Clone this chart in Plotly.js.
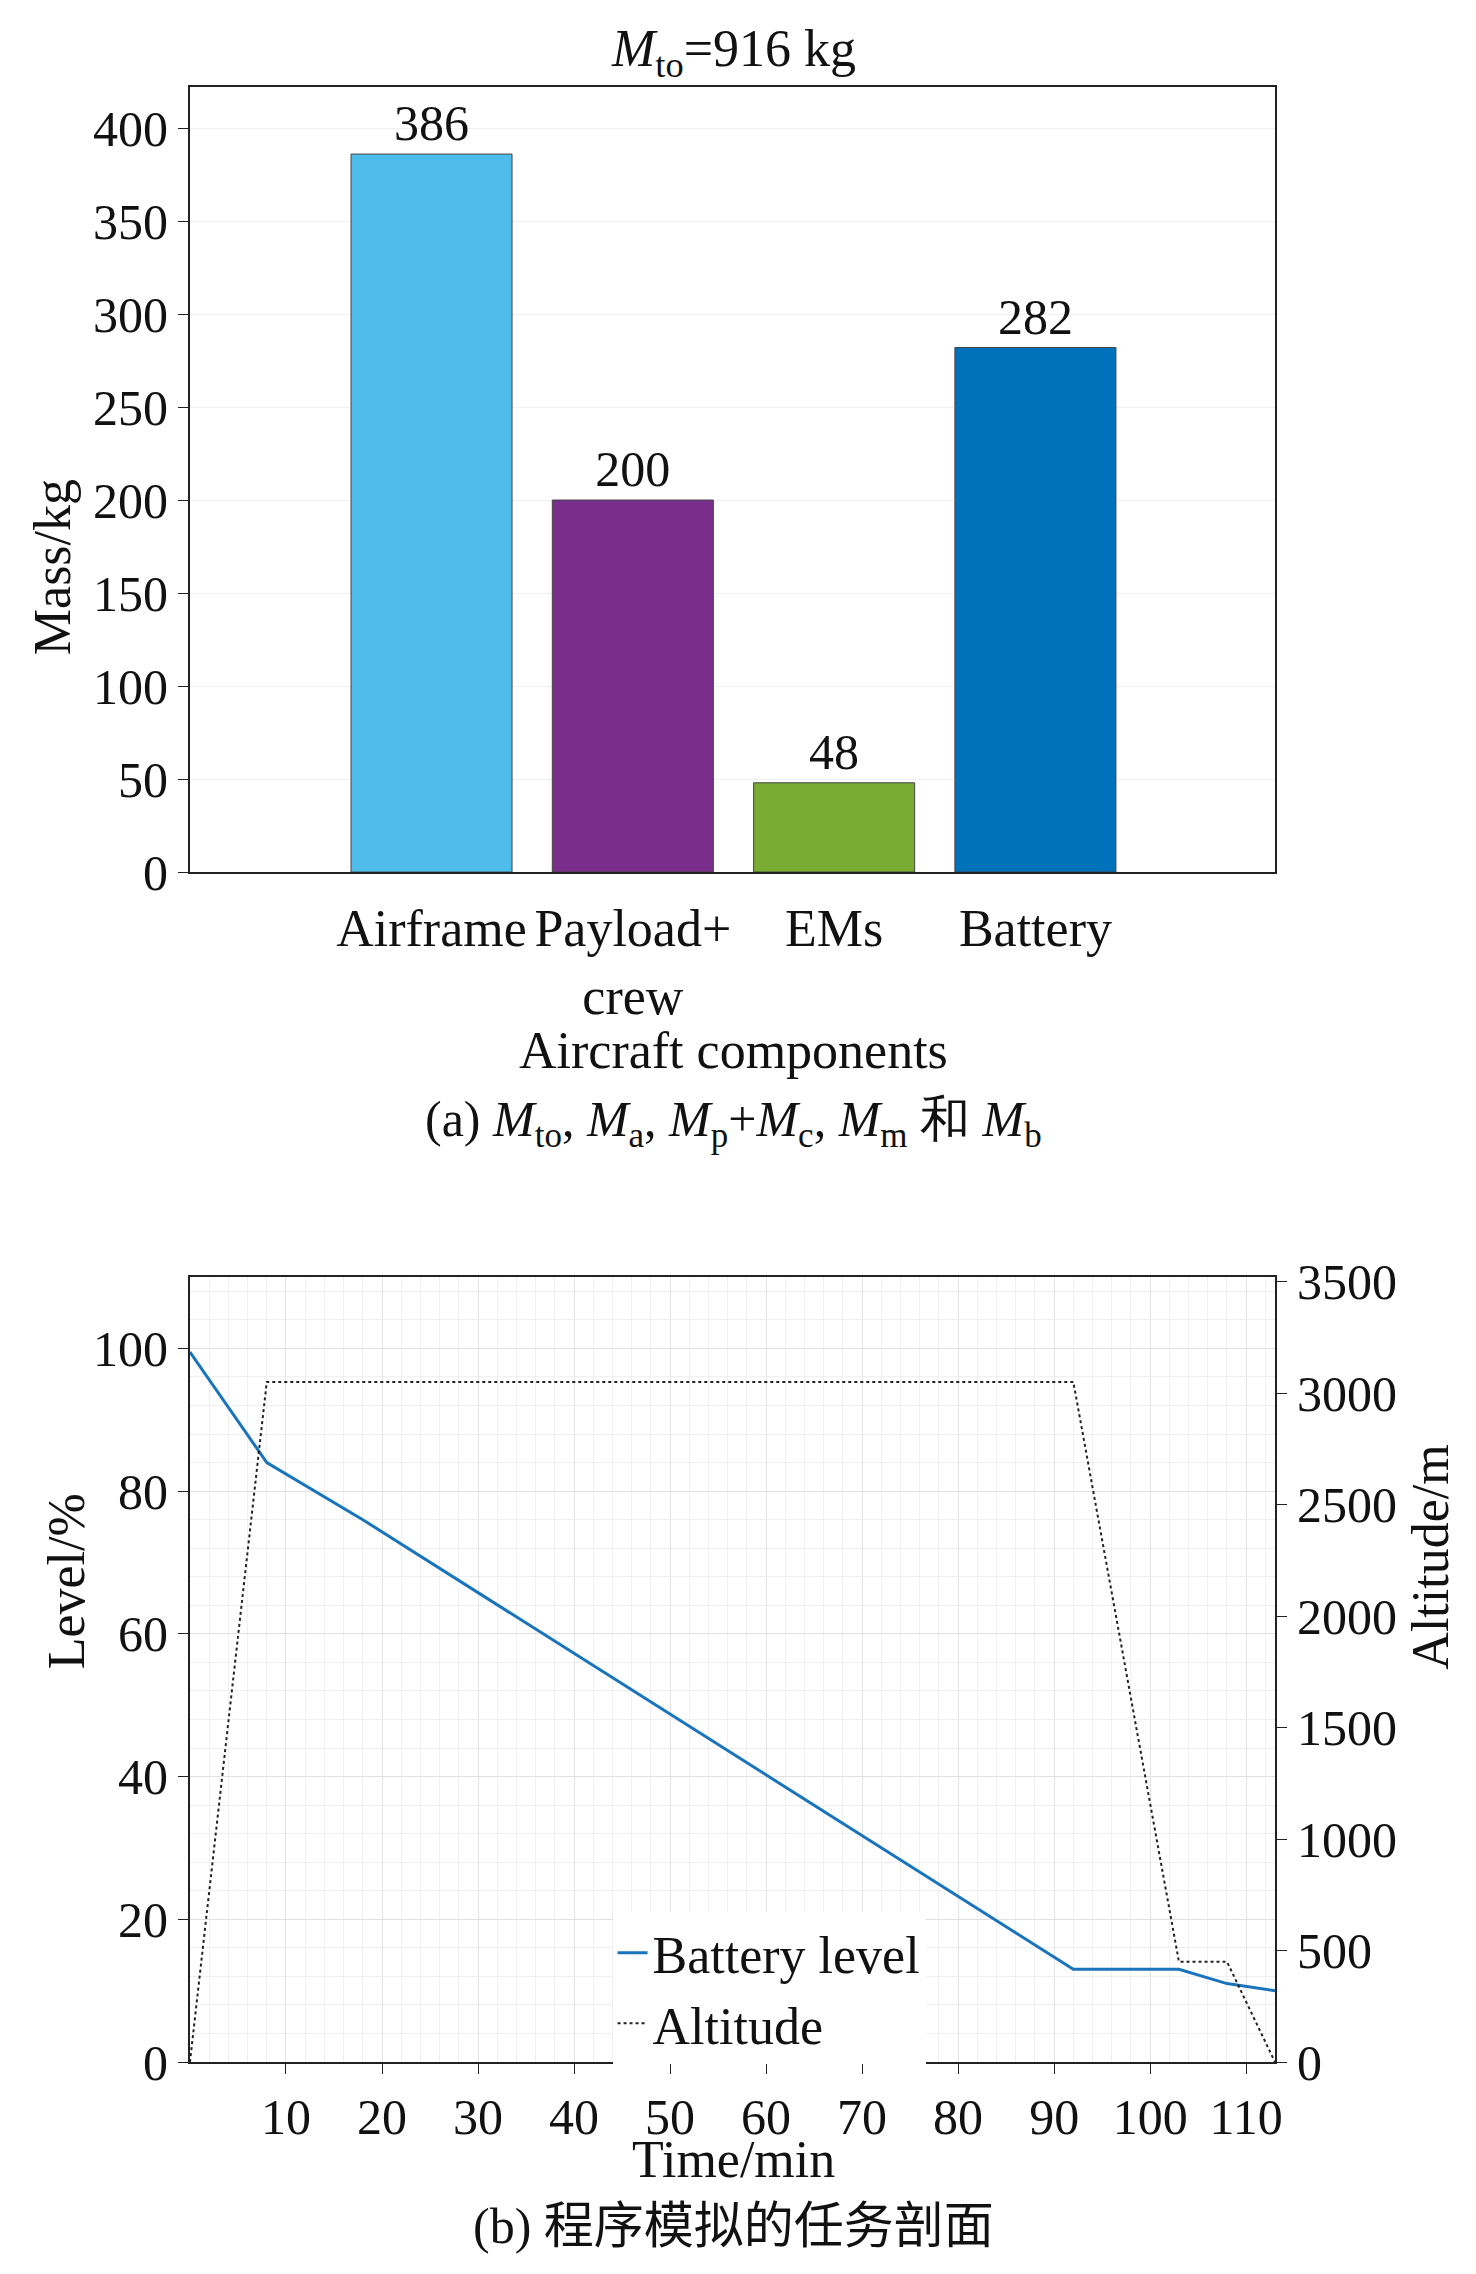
<!DOCTYPE html>
<html><head><meta charset="utf-8">
<script src="https://cdn.plot.ly/plotly-3.0.1.min.js"></script>
<style>body{margin:0;background:#fff}</style>
</head><body>
<div id="chart" style="width:1476px;height:2274px"></div>
<script>
const components = ["Airframe", "Payload+<br>crew", "EMs", "Battery"];
const masses = [386, 200, 48, 282];
const barColors = ["#4FBDEB", "#7B2D8B", "#78AC33", "#0071BB"];

const levelTime = [0, 8, 18, 92, 103, 108, 113];
const batteryLevel = [99.5, 84, 76, 13, 13, 11, 10];
const altTime = [0, 8, 92, 103, 108, 113];
const altitude = [0, 3050, 3050, 450, 450, 0];
const timeTicks = [10, 20, 30, 40, 50, 60, 70, 80, 90, 100, 110];

const serif = "Liberation Serif";
const f = (size) => ({ family: serif, size: size, color: "#111" });
const axisBase = () => ({
    showline: true, mirror: true, linecolor: "#222", linewidth: 2,
    ticks: "outside", ticklen: 10, tickcolor: "#222", tickfont: f(50),
    zeroline: false, gridcolor: "#e6e6e6",
});

const traces = [
    {
        type: "bar", x: components, y: masses, xaxis: "x", yaxis: "y",
        marker: { color: barColors, line: { color: "#444", width: 1 } },
        width: 0.8, text: masses.map(String), textposition: "outside",
        textfont: f(50), cliponaxis: false, showlegend: false,
    },
    {
        type: "scatter", mode: "lines", name: "Battery level",
        x: levelTime, y: batteryLevel, xaxis: "x2", yaxis: "y2",
        line: { color: "#1a74bb", width: 3 },
    },
    {
        type: "scatter", mode: "lines", name: "Altitude",
        x: altTime, y: altitude, xaxis: "x2", yaxis: "y3",
        line: { color: "#222", width: 2, dash: "dot" },
    },
];

const layout = {
    width: 1476, height: 2274, margin: { l: 0, r: 0, t: 0, b: 0 },
    paper_bgcolor: "#fff", plot_bgcolor: "#fff",
    font: f(50),
    xaxis: Object.assign(axisBase(), {
        domain: [0.1287, 0.8638], range: [-1.2, 4.19], showgrid: false,
        ticks: "outside", ticklen: 0, ticklabelstandoff: 10, tickfont: f(52),
    }),
    yaxis: Object.assign(axisBase(), {
        domain: [0.6165, 0.9617], range: [0, 422], dtick: 50, anchor: "x",
        showgrid: true, gridcolor: "#f0f0f0",
    }),
    xaxis2: Object.assign(axisBase(), {
        domain: [0.1287, 0.8638], range: [0, 113], tickvals: timeTicks, anchor: "y2",
        showgrid: true, gridcolor: "#e4e4e4",
        minor: { dtick: 2, showgrid: true, gridcolor: "#f0f0f0" },
    }),
    yaxis2: Object.assign(axisBase(), {
        domain: [0.0932, 0.4384], range: [0, 110], dtick: 20, anchor: "x2",
        mirror: false, showgrid: true, gridcolor: "#e0e0e0",
        minor: { dtick: 4, showgrid: true, gridcolor: "#f0f0f0" },
    }),
    yaxis3: Object.assign(axisBase(), {
        overlaying: "y2", side: "right", anchor: "x2", range: [0, 3520], dtick: 500,
        mirror: false, showgrid: false,
    }),
    legend: {
        x: 0.415, y: 0.159, xanchor: "left", yanchor: "top",
        bgcolor: "rgba(255,255,255,1)", font: f(52), tracegroupgap: 0,
    },
    annotations: [
        { text: "<i>M</i><sub>to</sub>=916 kg", x: 0.497, y: 0.992, xref: "paper", yref: "paper", showarrow: false, font: f(52) },
        { text: "Mass/kg", textangle: -90, x: 0.015, y: 0.79, xref: "paper", yref: "paper", showarrow: false, font: f(52) },
        { text: "Aircraft components", x: 0.497, y: 0.538, xref: "paper", yref: "paper", showarrow: false, font: f(52) },
        { text: "(a) <i>M</i><sub>to</sub>, <i>M</i><sub>a</sub>, <i>M</i><sub>p</sub>+<i>M</i><sub>c</sub>, <i>M</i><sub>m</sub> 和 <i>M</i><sub>b</sub>", x: 0.497, y: 0.506, xref: "paper", yref: "paper", showarrow: false, font: f(50) },
        { text: "Level/%", textangle: -90, x: 0.024, y: 0.265, xref: "paper", yref: "paper", showarrow: false, font: f(52) },
        { text: "Altitude/m", textangle: -90, x: 0.99, y: 0.265, xref: "paper", yref: "paper", showarrow: false, font: f(52) },
        { text: "Time/min", x: 0.497, y: 0.037, xref: "paper", yref: "paper", showarrow: false, font: f(52) },
        { text: "(b) 程序模拟的任务剖面", x: 0.497, y: 0.008, xref: "paper", yref: "paper", showarrow: false, font: { family: "Liberation Serif, Noto Sans CJK SC", size: 50, color: "#111" } },
    ],
};

Plotly.newPlot("chart", traces, layout, { displayModeBar: false });
</script>
</body></html>
